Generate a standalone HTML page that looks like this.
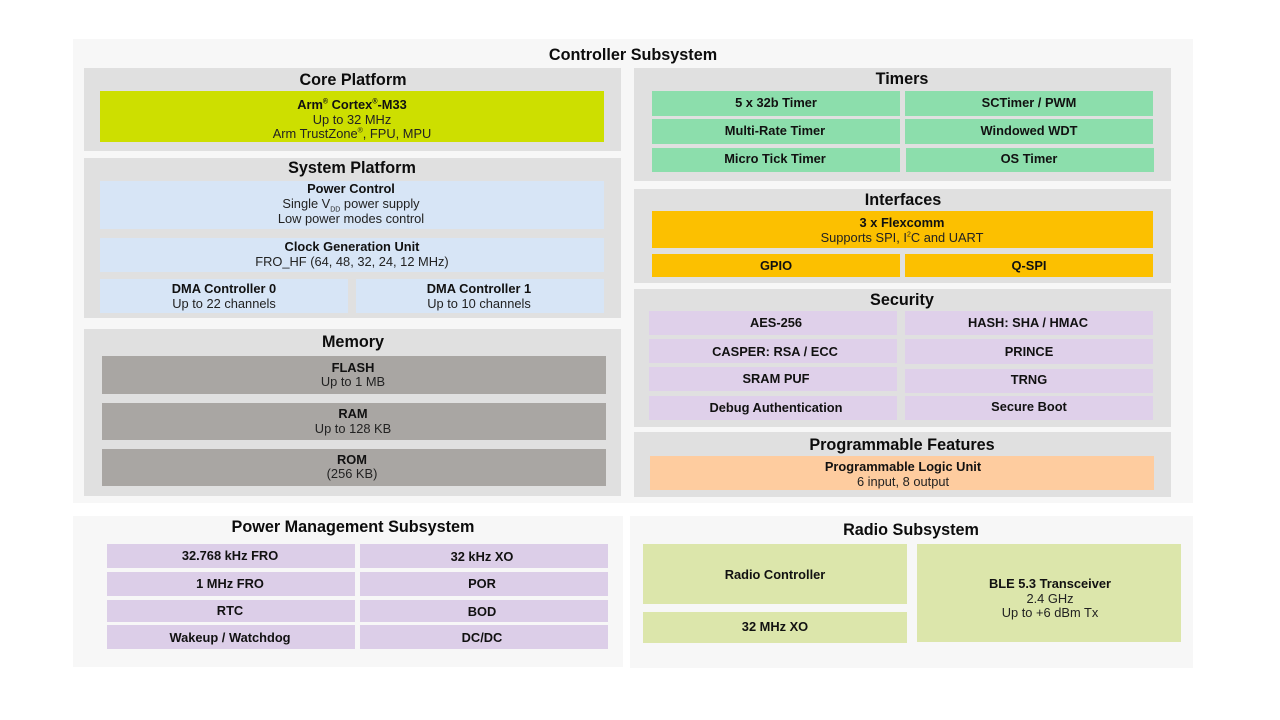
<!DOCTYPE html>
<html><head><meta charset="utf-8"><title>Controller Subsystem</title>
<style>
html,body{margin:0;padding:0;background:#fff}
#p{position:relative;width:1280px;height:720px;overflow:hidden;font-family:"Liberation Sans",sans-serif;color:#111;background:#fff;filter:blur(.35px)}
.b{position:absolute}
.t{position:absolute;width:400px;height:16px;line-height:16px;margin-top:1px;text-align:center;font-size:12.85px;white-space:nowrap;color:#222}
.s{font-weight:bold;color:#111}
.h{font-weight:bold;font-size:16.2px;color:#0c0c0c}
sup,sub{font-size:7px;line-height:0}
.o{background:#f7f7f7}.g{background:#e0e0e0}.y{background:#cddf00}.l{background:#d7e5f6}.d{background:#a9a6a3}.m{background:#8cdeac}.a{background:#fcc000}.v{background:#dfd0ea}.p{background:#dcceE8}.r{background:#fecc9f}.n{background:#dce6ab}
</style></head><body><div id="p">
<div class="b o" style="left:73px;top:39px;width:1120px;height:464px"></div>
<div class="b g" style="left:84px;top:68px;width:537px;height:83px"></div>
<div class="b y" style="left:100px;top:91px;width:504px;height:51px"></div>
<div class="b g" style="left:84px;top:158px;width:537px;height:160px"></div>
<div class="b l" style="left:100px;top:181px;width:504px;height:48px"></div>
<div class="b l" style="left:100px;top:238px;width:504px;height:34px"></div>
<div class="b l" style="left:100px;top:279px;width:248px;height:34px"></div>
<div class="b l" style="left:356px;top:279px;width:248px;height:34px"></div>
<div class="b g" style="left:84px;top:329px;width:537px;height:167px"></div>
<div class="b d" style="left:102px;top:356px;width:504px;height:38px"></div>
<div class="b d" style="left:102px;top:403px;width:504px;height:37px"></div>
<div class="b d" style="left:102px;top:449px;width:504px;height:37px"></div>

<div class="b g" style="left:634px;top:68px;width:537px;height:113px"></div>
<div class="b m" style="left:652px;top:91px;width:248px;height:25px"></div>
<div class="b m" style="left:905px;top:91px;width:248px;height:25px"></div>
<div class="b m" style="left:652px;top:119px;width:248px;height:25px"></div>
<div class="b m" style="left:905px;top:119px;width:248px;height:25px"></div>
<div class="b m" style="left:652px;top:148px;width:248px;height:24px"></div>
<div class="b m" style="left:906px;top:148px;width:248px;height:24px"></div>
<div class="b g" style="left:634px;top:189px;width:537px;height:94px"></div>
<div class="b a" style="left:652px;top:211px;width:501px;height:37px"></div>
<div class="b a" style="left:652px;top:254px;width:248px;height:23px"></div>
<div class="b a" style="left:905px;top:254px;width:248px;height:23px"></div>
<div class="b g" style="left:634px;top:289px;width:537px;height:138px"></div>
<div class="b v" style="left:649px;top:311px;width:248px;height:24px"></div>
<div class="b v" style="left:905px;top:311px;width:248px;height:24px"></div>
<div class="b v" style="left:649px;top:339px;width:248px;height:24px"></div>
<div class="b v" style="left:905px;top:339px;width:248px;height:25px"></div>
<div class="b v" style="left:649px;top:367px;width:248px;height:24px"></div>
<div class="b v" style="left:905px;top:369px;width:248px;height:24px"></div>
<div class="b v" style="left:649px;top:396px;width:248px;height:24px"></div>
<div class="b v" style="left:905px;top:396px;width:248px;height:24px"></div>
<div class="b g" style="left:634px;top:432px;width:537px;height:65px"></div>
<div class="b r" style="left:650px;top:456px;width:504px;height:34px"></div>

<div class="b o" style="left:73px;top:516px;width:550px;height:151px"></div>
<div class="b p" style="left:107px;top:544px;width:248px;height:24px"></div>
<div class="b p" style="left:360px;top:544px;width:248px;height:24px"></div>
<div class="b p" style="left:107px;top:572px;width:248px;height:24px"></div>
<div class="b p" style="left:360px;top:572px;width:248px;height:24px"></div>
<div class="b p" style="left:107px;top:600px;width:248px;height:22px"></div>
<div class="b p" style="left:360px;top:600px;width:248px;height:22px"></div>
<div class="b p" style="left:107px;top:625px;width:248px;height:24px"></div>
<div class="b p" style="left:360px;top:625px;width:248px;height:24px"></div>
<div class="b o" style="left:630px;top:516px;width:563px;height:152px"></div>
<div class="b n" style="left:643px;top:544px;width:264px;height:60px"></div>
<div class="b n" style="left:643px;top:612px;width:264px;height:31px"></div>
<div class="b n" style="left:917px;top:544px;width:264px;height:98px"></div>

<div class="t h" style="left:433px;top:46px">Controller Subsystem</div>
<div class="t h" style="left:153px;top:71px">Core Platform</div>
<div class="t s" style="left:152px;top:96px">Arm<sup>®</sup> Cortex<sup>®</sup>-M33</div>
<div class="t" style="left:152px;top:111px">Up to 32 MHz</div>
<div class="t" style="left:152px;top:125px">Arm TrustZone<sup>®</sup>, FPU, MPU</div>
<div class="t h" style="left:152px;top:159px">System Platform</div>
<div class="t s" style="left:151px;top:180px">Power Control</div>
<div class="t" style="left:151px;top:195px">Single V<sub>DD</sub> power supply</div>
<div class="t" style="left:151px;top:210px">Low power modes control</div>
<div class="t s" style="left:152px;top:238px">Clock Generation Unit</div>
<div class="t" style="left:152px;top:253px">FRO_HF (64, 48, 32, 24, 12 MHz)</div>
<div class="t s" style="left:24px;top:280px">DMA Controller 0</div>
<div class="t" style="left:24px;top:295px">Up to 22 channels</div>
<div class="t s" style="left:279px;top:280px">DMA Controller 1</div>
<div class="t" style="left:279px;top:295px">Up to 10 channels</div>
<div class="t h" style="left:153px;top:333px">Memory</div>
<div class="t s" style="left:153px;top:359px">FLASH</div>
<div class="t" style="left:153px;top:373px">Up to 1 MB</div>
<div class="t s" style="left:153px;top:405px">RAM</div>
<div class="t" style="left:153px;top:420px">Up to 128 KB</div>
<div class="t s" style="left:152px;top:451px">ROM</div>
<div class="t" style="left:152px;top:465px">(256 KB)</div>

<div class="t h" style="left:702px;top:70px">Timers</div>
<div class="t s" style="left:576px;top:94px">5 x 32b Timer</div>
<div class="t s" style="left:829px;top:94px">SCTimer / PWM</div>
<div class="t s" style="left:575px;top:122px">Multi-Rate Timer</div>
<div class="t s" style="left:829px;top:122px">Windowed WDT</div>
<div class="t s" style="left:575px;top:150px">Micro Tick Timer</div>
<div class="t s" style="left:829px;top:150px">OS Timer</div>
<div class="t h" style="left:703px;top:191px">Interfaces</div>
<div class="t s" style="left:702px;top:214px">3 x Flexcomm</div>
<div class="t" style="left:702px;top:229px">Supports SPI, I<sup>2</sup>C and UART</div>
<div class="t s" style="left:576px;top:257px">GPIO</div>
<div class="t s" style="left:829px;top:257px">Q-SPI</div>
<div class="t h" style="left:702px;top:291px">Security</div>
<div class="t s" style="left:576px;top:314px">AES-256</div>
<div class="t s" style="left:828px;top:314px">HASH: SHA / HMAC</div>
<div class="t s" style="left:575px;top:343px">CASPER: RSA / ECC</div>
<div class="t s" style="left:829px;top:343px">PRINCE</div>
<div class="t s" style="left:576px;top:370px">SRAM PUF</div>
<div class="t s" style="left:829px;top:371px">TRNG</div>
<div class="t s" style="left:576px;top:399px">Debug Authentication</div>
<div class="t s" style="left:829px;top:398px">Secure Boot</div>
<div class="t h" style="left:702px;top:436px">Programmable Features</div>
<div class="t s" style="left:703px;top:458px">Programmable Logic Unit</div>
<div class="t" style="left:703px;top:473px">6 input, 8 output</div>

<div class="t h" style="left:153px;top:518px">Power Management Subsystem</div>
<div class="t s" style="left:30px;top:547px">32.768 kHz FRO</div>
<div class="t s" style="left:282px;top:548px">32 kHz XO</div>
<div class="t s" style="left:30px;top:575px">1 MHz FRO</div>
<div class="t s" style="left:282px;top:575px">POR</div>
<div class="t s" style="left:30px;top:602px">RTC</div>
<div class="t s" style="left:282px;top:603px">BOD</div>
<div class="t s" style="left:30px;top:629px">Wakeup / Watchdog</div>
<div class="t s" style="left:282px;top:629px">DC/DC</div>
<div class="t h" style="left:711px;top:521px">Radio Subsystem</div>
<div class="t s" style="left:575px;top:566px">Radio Controller</div>
<div class="t s" style="left:575px;top:618px">32 MHz XO</div>
<div class="t s" style="left:850px;top:575px">BLE 5.3 Transceiver</div>
<div class="t" style="left:850px;top:590px">2.4 GHz</div>
<div class="t" style="left:850px;top:604px">Up to +6 dBm Tx</div>
</div></body></html>
